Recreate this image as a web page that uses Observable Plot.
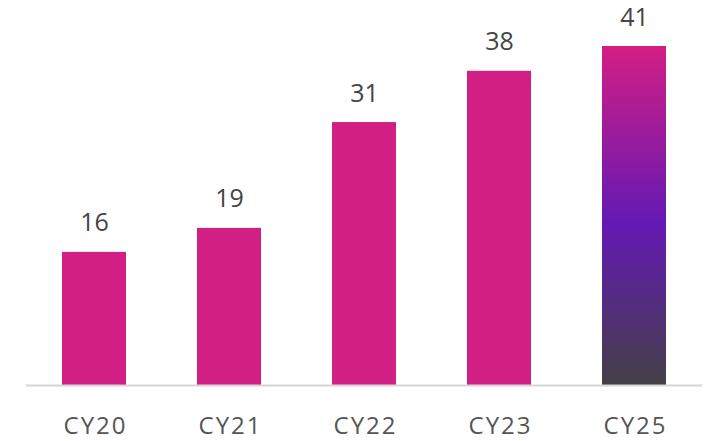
<!DOCTYPE html>
<html>
<head>
<meta charset="utf-8">
<script src="https://cdn.jsdelivr.net/npm/d3@7"></script>
<script src="https://cdn.jsdelivr.net/npm/@observablehq/plot@0.6"></script>
<style>
  body { margin: 0; background: #fff; }
  svg { font-family: "Open Sans", Lato, sans-serif; }
  g[aria-label="x-axis tick label"] text { letter-spacing: 2px; }
</style>
</head>
<body>
<div id="chart"></div>
<script>
const categories = ["CY20", "CY21", "CY22", "CY23", "CY25"];
const values = [16.1, 19, 31.8, 38, 41];
const valueLabels = ["16", "19", "31", "38", "41"];
const highlighted = ["CY25"];

const data = categories.map((c, i) => ({ cat: c, value: values[i], label: valueLabels[i] }));

const defs = () => {
  const d = d3.create("svg:defs");
  const g = d.append("linearGradient")
    .attr("id", "barGrad").attr("x1", 0).attr("y1", 0).attr("x2", 0).attr("y2", 1);
  g.append("stop").attr("offset", "0%").attr("stop-color", "#D31E84");
  g.append("stop").attr("offset", "52%").attr("stop-color", "#6419B4");
  g.append("stop").attr("offset", "100%").attr("stop-color", "#444047");
  return d.node();
};

const chart = Plot.plot({
  width: 710,
  height: 441,
  marginLeft: 26,
  marginRight: 8,
  marginTop: 46,
  marginBottom: 56,
  x: { domain: categories, paddingInner: 0.526, paddingOuter: 0.263, label: null },
  y: { domain: [0, 41], axis: null },
  marks: [
    defs,
    Plot.barY(data, {
      x: "cat", y: "value",
      fill: d => highlighted.includes(d.cat) ? "url(#barGrad)" : "#D11F84"
    }),
    Plot.ruleY([0], { stroke: "#d6d6d6", strokeWidth: 2 }),
    Plot.text(data, {
      x: "cat", y: "value", text: "label",
      dy: -29, fontSize: 25, fill: "#444"
    }),
    Plot.axisX({ tickSize: 0, tickPadding: 31, fontSize: 24, color: "#555", label: null, dx: 1 })
  ]
});
document.getElementById("chart").append(chart);
</script>
</body>
</html>
